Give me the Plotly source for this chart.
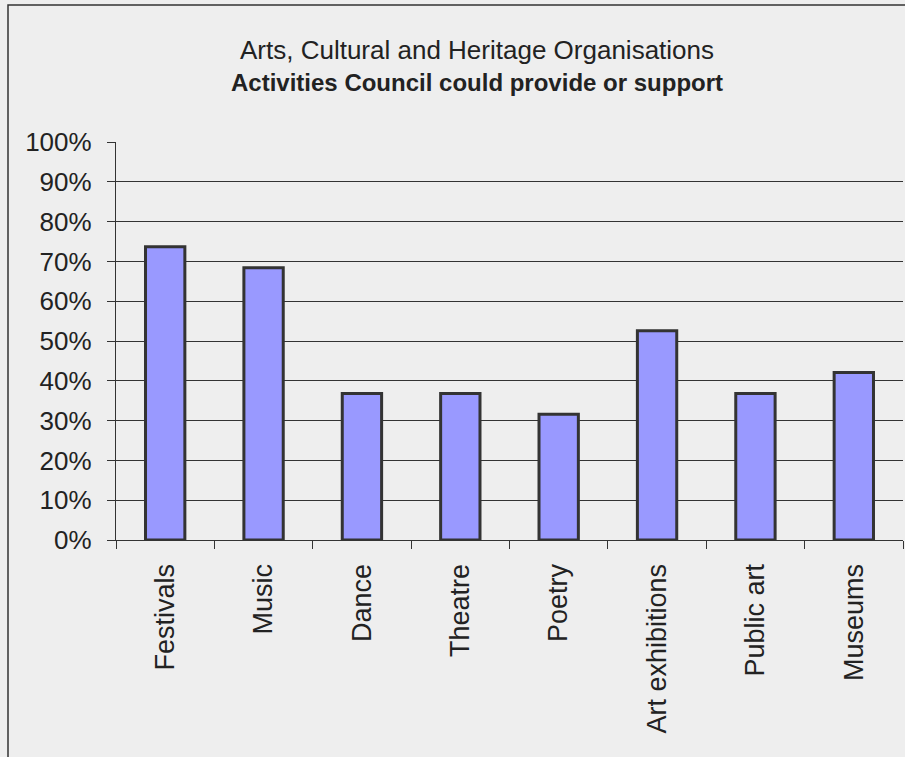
import plotly.graph_objects as go

categories = ["Festivals", "Music", "Dance", "Theatre", "Poetry",
              "Art exhibitions", "Public art", "Museums"]
values = [0.737, 0.684, 0.368, 0.368, 0.316, 0.526, 0.368, 0.421]
title_line1 = "Arts, Cultural and Heritage Organisations"
title_line2 = "Activities Council could provide or support"

W, H = 905, 757
L, R, T, B = 116, 2, 142, 217
pw, ph = W - L - R, H - T - B

def px_x(px):
    return (px - L) / pw

def px_y(py):
    return (H - B - py) / ph

font = "Liberation Sans, Arial, sans-serif"
ink = "#333333"

fig = go.Figure(go.Bar(
    x=categories, y=values, width=0.4,
    marker=dict(color="#9999ff", line=dict(color=ink, width=3)),
))

fig.update_layout(
    width=W, height=H,
    margin=dict(l=L, r=R, t=T, b=B, pad=0),
    paper_bgcolor="#eeeeee", plot_bgcolor="#eeeeee",
    showlegend=False,
    font=dict(family=font, color="#222222"),
    annotations=[
        dict(text=title_line1, x=px_x(477), y=px_y(50), xref="paper", yref="paper",
             showarrow=False, xanchor="center", yanchor="middle",
             font=dict(size=26, color="#222222", family=font)),
        dict(text="<b>" + title_line2 + "</b>", x=px_x(477), y=px_y(82),
             xref="paper", yref="paper",
             showarrow=False, xanchor="center", yanchor="middle",
             font=dict(size=24, color="#222222", family=font)),
    ],
    shapes=[
        dict(type="rect", xref="paper", yref="paper",
             x0=px_x(8), x1=px_x(910), y0=px_y(760), y1=px_y(5),
             line=dict(color=ink, width=1.5), fillcolor="rgba(0,0,0,0)",
             layer="below"),
    ],
)

fig.update_yaxes(
    range=[0, 1], dtick=0.1, tickformat=".0%",
    showgrid=True, gridcolor=ink, gridwidth=1.3,
    showline=True, linecolor=ink, linewidth=1.3,
    ticks="outside", ticklen=8, tickcolor=ink, tickwidth=1.3,
    tickfont=dict(size=26, family=font, color="#222222"),
    ticklabelstandoff=10, zeroline=False, fixedrange=True,
)
fig.update_xaxes(
    showline=True, linecolor=ink, linewidth=1.3,
    ticks="outside", ticklen=8, tickcolor=ink, tickwidth=1.3,
    tickson="boundaries", tickangle=-90,
    tickfont=dict(size=27, family=font, color="#222222"),
    ticklabelstandoff=12, showgrid=False, fixedrange=True,
)

fig.write_html("out.html", config={"displayModeBar": False},
               post_script="document.body.style.margin='0';document.body.style.overflow='hidden';")
